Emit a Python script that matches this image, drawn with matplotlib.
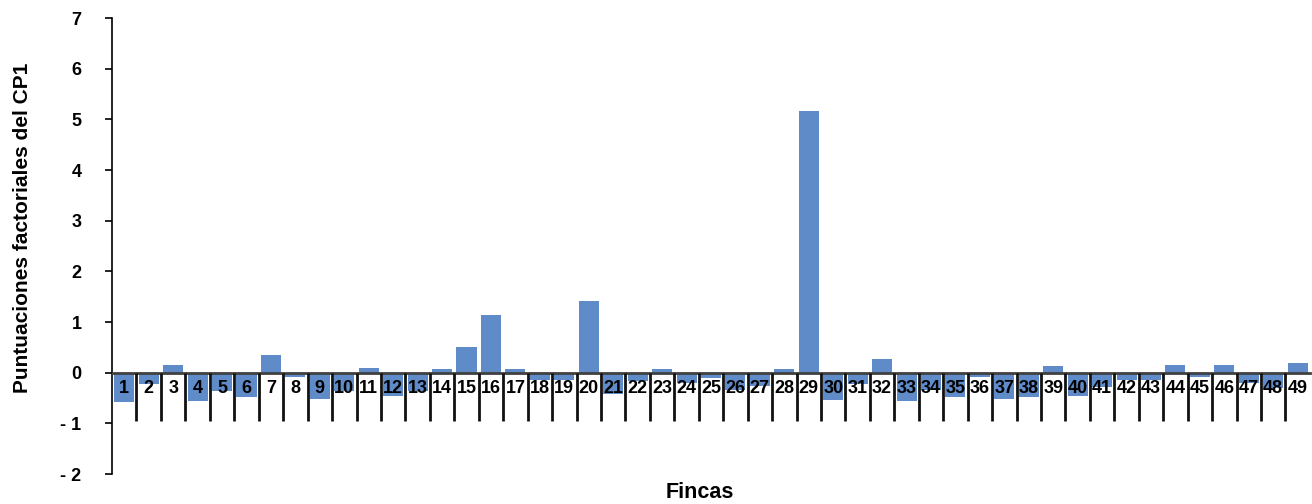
import numpy as np
import matplotlib.pyplot as plt
from matplotlib.ticker import FuncFormatter

# Fincas 1..49 and their CP1 factor scores
fincas = [str(i) for i in range(1, 50)]
puntuaciones = [
    -0.58, -0.23, 0.16, -0.56, -0.36, -0.48, 0.34, -0.09, -0.52, -0.36,
    0.10, -0.46, -0.36, 0.08, 0.51, 1.14, 0.08, -0.14, -0.14, 1.42,
    -0.43, -0.16, 0.08, -0.20, -0.11, -0.34, -0.27, 0.07, 5.17, -0.53,
    -0.22, 0.28, -0.56, -0.34, -0.48, -0.09, -0.51, -0.48, 0.14, -0.46,
    -0.29, -0.14, -0.14, 0.16, -0.08, 0.16, -0.20, -0.31, 0.20,
]

plt.rcParams['font.family'] = ['Liberation Sans', 'DejaVu Sans']
plt.rcParams['font.weight'] = 'bold'

fig = plt.figure(figsize=(13.12, 5.04), dpi=100)
ax = fig.add_axes([0.0854, 0.0595, 0.913, 0.9045])

x = np.arange(len(fincas))
ax.bar(x, puntuaciones, width=0.82, color='#5f8bc8', zorder=2)
ax.set_axisbelow(False)  # labels on top of the bars

ax.set_xlim(-0.5, len(fincas) - 0.5)
ax.set_ylim(-2, 7)
ax.set_yticks(range(-2, 8))
ax.yaxis.set_major_formatter(FuncFormatter(lambda v, p: f"- {abs(int(v))}" if v < 0 else f"{int(v)}"))

# category axis sits on zero, with long separators between categories
ax.spines['top'].set_visible(False)
ax.spines['right'].set_visible(False)
ax.spines['bottom'].set_position(('data', 0))
ax.spines['bottom'].set_color('#404040')
ax.spines['bottom'].set_linewidth(2)
ax.spines['left'].set_linewidth(1.2)

ax.set_xticks(x)
ax.set_xticklabels(fincas, fontsize=13, fontweight='bold')
ax.set_xticks(np.arange(0.5, len(fincas) - 0.5), minor=True)
ax.tick_params(axis='x', which='major', length=0, pad=5.5)
ax.tick_params(axis='x', which='minor', length=34.5, width=2, direction='out', color='#111111')
ax.tick_params(axis='y', length=5, width=1.2, labelsize=13, pad=17)
for lbl in ax.get_yticklabels():
    lbl.set_fontweight('bold')

fig.text(23 / 1312, 1 - 228 / 504, 'Puntuaciones factoriales del CP1', rotation=90,
         ha='center', va='center', fontsize=15, fontweight='bold')
fig.text(700 / 1312, 1 - 492 / 504, 'Fincas', ha='center', va='center', fontsize=15.5, fontweight='bold')

fig.savefig('out.png', dpi=100)
